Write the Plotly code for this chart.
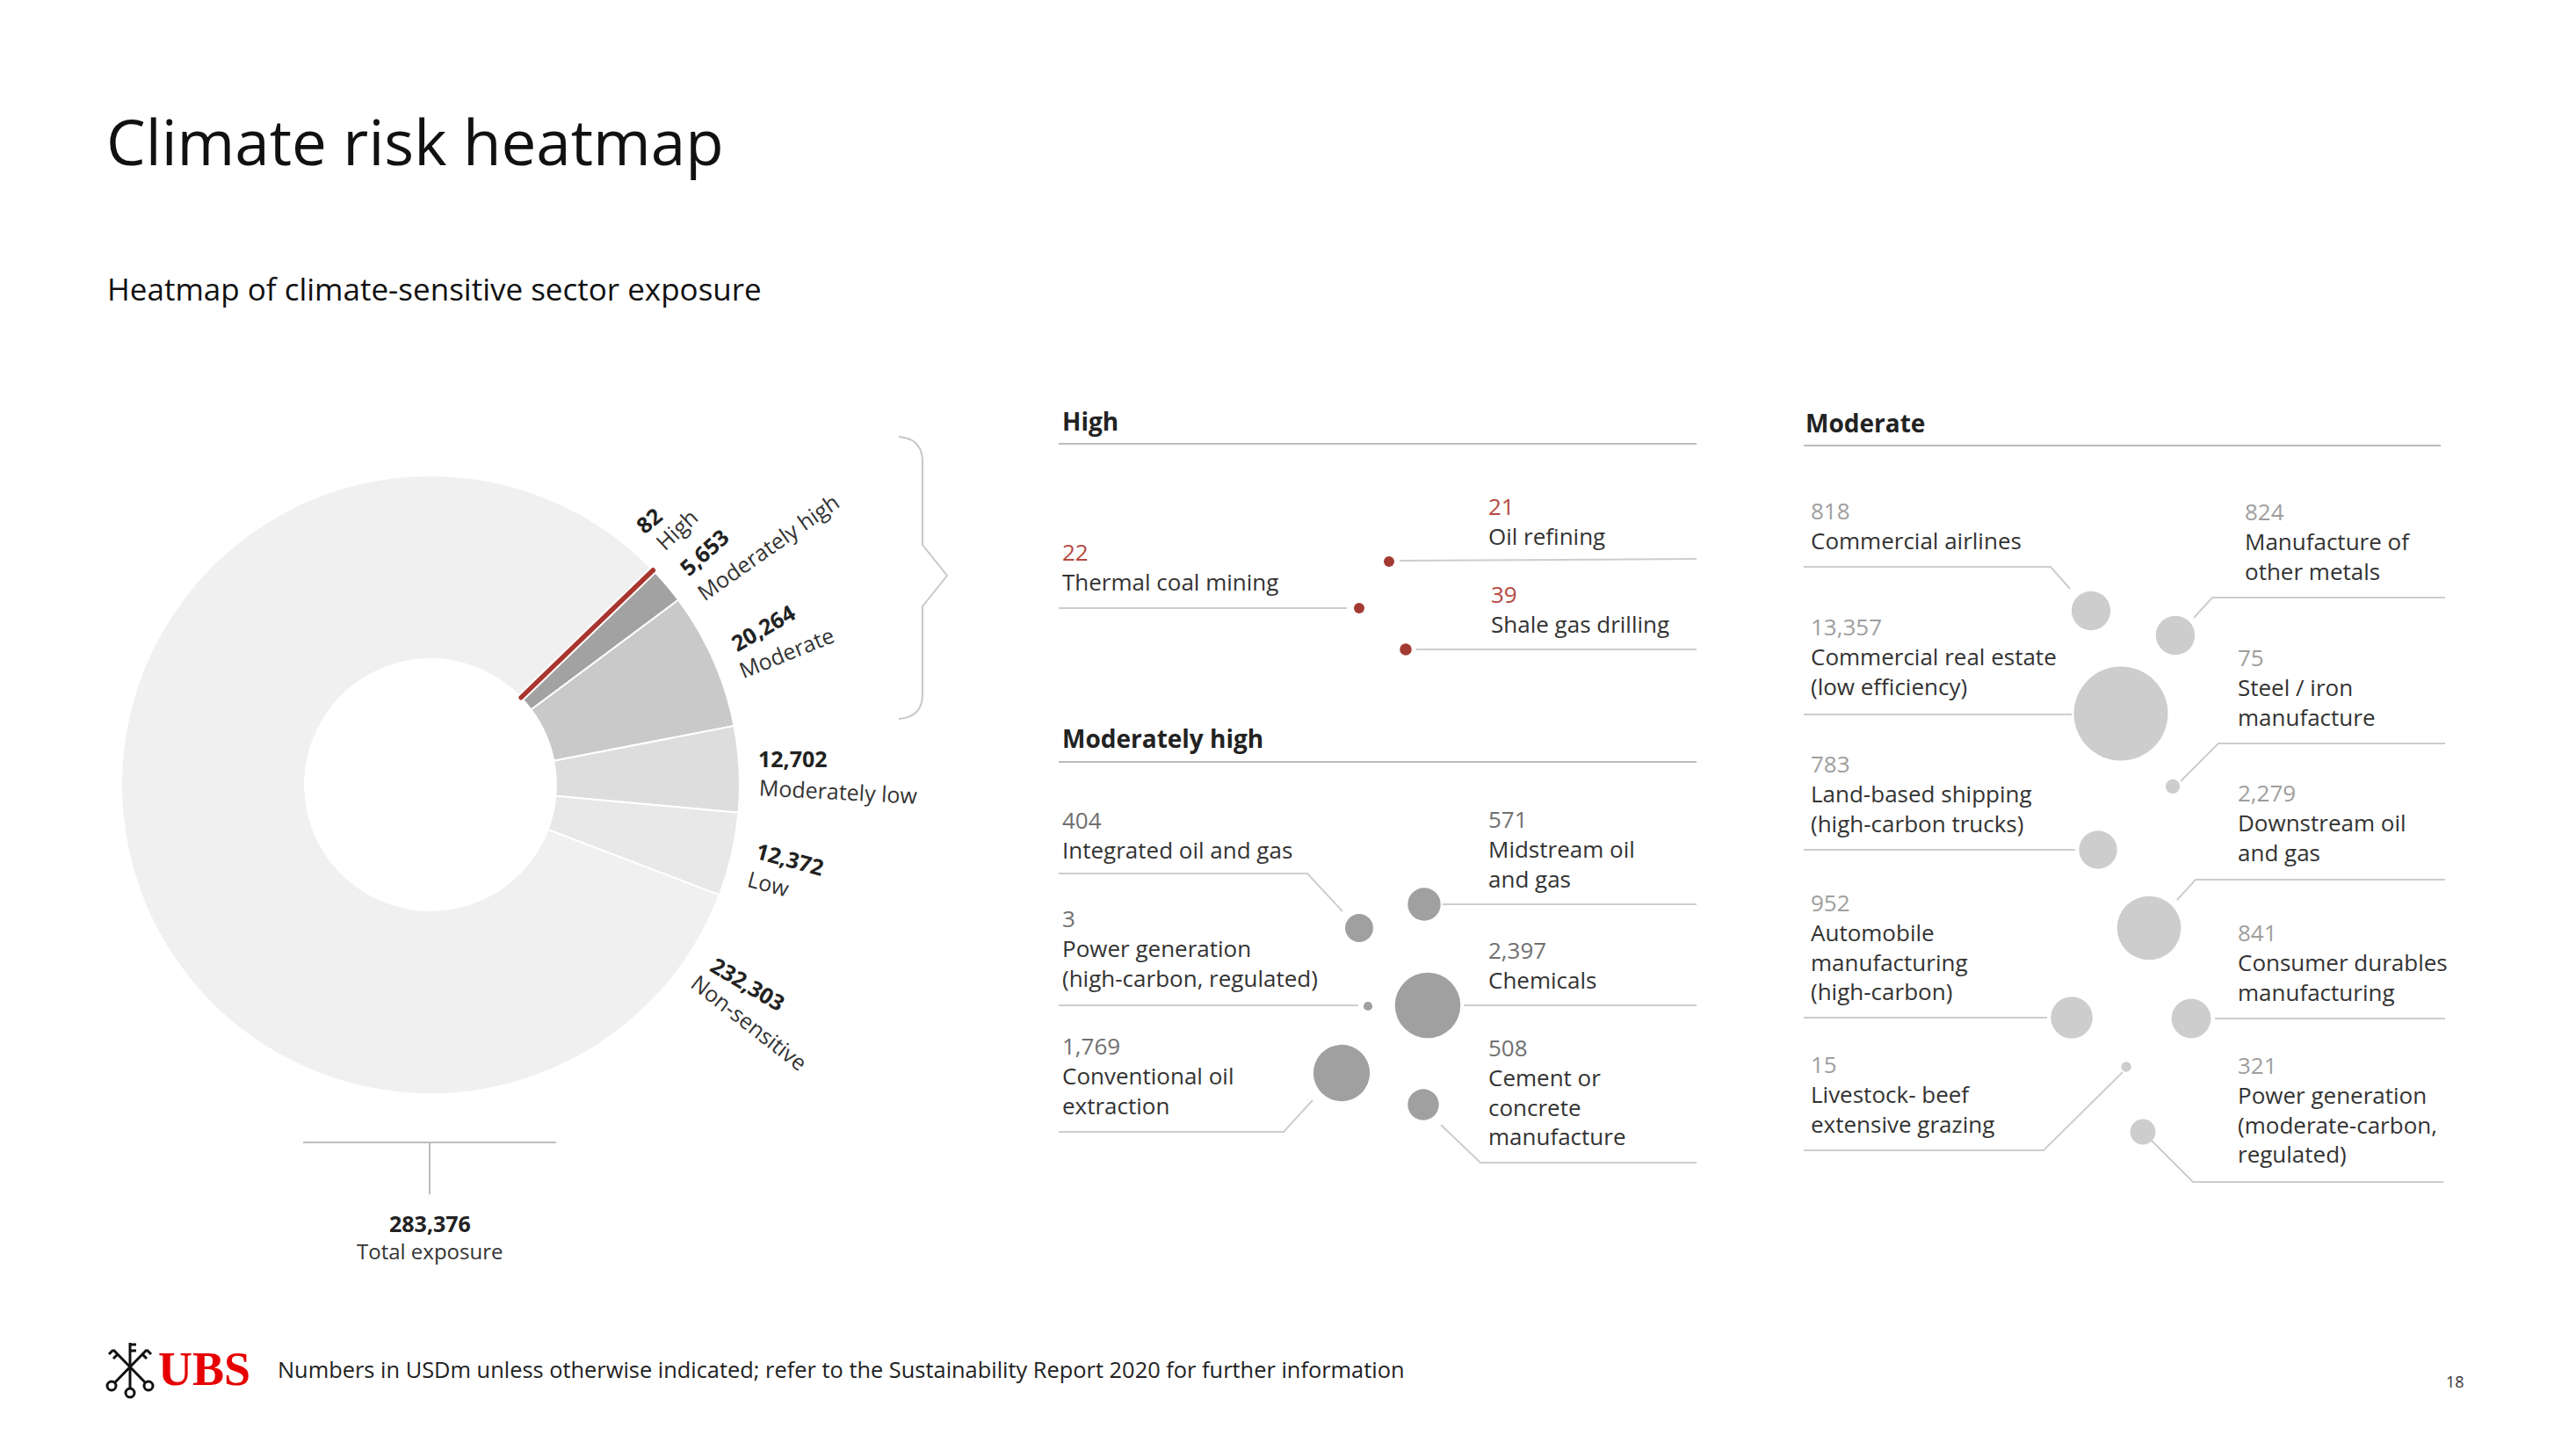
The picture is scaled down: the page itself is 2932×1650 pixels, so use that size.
import math
import plotly.graph_objects as go

W, H = 2932, 1650
OFF = 8  # page body margin compensation
FONT = "Open Sans"

# ---------------- data ----------------
risk_levels = ["High", "Moderately high", "Moderate", "Moderately low", "Low", "Non-sensitive"]
risk_values = [82, 5653, 20264, 12702, 12372, 232303]
total_exposure = 283376

high_sectors = ["Thermal coal mining", "Oil refining", "Shale gas drilling"]
high_values = [22, 21, 39]

modhigh_sectors = ["Integrated oil and gas", "Power generation<br>(high-carbon, regulated)",
                   "Conventional oil<br>extraction", "Midstream oil<br>and gas", "Chemicals",
                   "Cement or<br>concrete<br>manufacture"]
modhigh_values = [404, 3, 1769, 571, 2397, 508]

moderate_sectors = ["Commercial airlines", "Commercial real estate<br>(low efficiency)",
                    "Land-based shipping<br>(high-carbon trucks)",
                    "Automobile<br>manufacturing<br>(high-carbon)",
                    "Livestock- beef<br>extensive grazing",
                    "Manufacture of<br>other metals", "Steel / iron<br>manufacture",
                    "Downstream oil<br>and gas", "Consumer durables<br>manufacturing",
                    "Power generation<br>(moderate-carbon,<br>regulated)"]
moderate_values = [818, 13357, 783, 952, 15, 824, 75, 2279, 841, 321]

# ---------------- styles / layout positions ----------------
risk_colors = ["#A8352E", "#A2A2A2", "#C9C9C9", "#DDDDDD", "#E8E8E8", "#F1F0F0"]
LINE = "#CDCDCD"
TXT = "#333333"

# bubble diameter: area proportional to value, with a minimum area and a cap
def diam(v):
    return min(math.sqrt(2.28 * v + 95), 107)

# pixel positions (layout only)
high_bubble_xy = [(1547, 692), (1581, 639), (1600, 739)]
high_text_xy = [(1207, 645), (1692, 593), (1695, 693)]

modhigh_bubble_xy = [(1547, 1056), (1557, 1145), (1527, 1221), (1621, 1029), (1625, 1144), (1620, 1257)]
modhigh_text_xy = [(1207, 950), (1207, 1079), (1207, 1224), (1692, 966), (1692, 1098), (1692, 1242)]

moderate_bubble_xy = [(2380, 695), (2414, 812), (2388, 967), (2358, 1158), (2420, 1214),
                      (2476, 723), (2473, 895), (2446, 1056), (2494, 1159), (2439, 1288)]
moderate_text_xy = [(2059, 598), (2059, 747), (2059, 903), (2059, 1077), (2059, 1245),
                    (2553, 616), (2545, 782), (2545, 936), (2545, 1095), (2545, 1262)]

donut_num_pos = [(738, 592, -40), (801, 628, -42), (868, 714, -30), (902, 863, 0), (899, 977, 15), (851, 1119, 31)]
donut_lab_pos = [(770, 602, -43), (874, 622, -35), (895, 742, -22), (954, 900, 3), (875, 1005, 15), (853, 1163, 38)]

connectors = [
    # High
    "M 1205,692 L 1533,692", "M 1593,638 L 1931,636", "M 1612,739 L 1931,739",
    # Moderately high
    "M 1205,994 L 1488,994 L 1528,1037", "M 1205,1144 L 1546,1144",
    "M 1205,1288 L 1461,1288 L 1494,1252", "M 1642,1029 L 1931,1029",
    "M 1666,1144 L 1931,1144", "M 1640,1280 L 1685,1323 L 1931,1323",
    # Moderate left
    "M 2053,645 L 2334,645 L 2356,670", "M 2053,813 L 2358,813",
    "M 2053,967 L 2362,967", "M 2053,1158 L 2330,1158", "M 2053,1309 L 2326,1309 L 2416,1220",
    # Moderate right
    "M 2783,680 L 2518,680 L 2497,703", "M 2783,846 L 2525,846 L 2482,889",
    "M 2783,1001 L 2499,1001 L 2478,1024", "M 2783,1159 L 2521,1159",
    "M 2449,1298 L 2496,1345 L 2781,1345",
]
header_rules = ["M 1205,505 L 1931,505", "M 1205,867 L 1931,867", "M 2053,507 L 2778,507"]

fig = go.Figure()

# ---------------- donut ----------------
dom_x = [(138 - OFF) / W, (842 - OFF) / W]
dom_y = [1 - (1245 - OFF) / H, 1 - (541 - OFF) / H]
fig.add_trace(go.Pie(
    labels=risk_levels, values=risk_values, sort=False, direction="clockwise", rotation=46,
    hole=0.406, domain=dict(x=dom_x, y=dom_y), textinfo="none", showlegend=False,
    marker=dict(colors=risk_colors, line=dict(color="white", width=2)), hoverinfo="label+value",
))
# emphasise the thin "High" sliver on top
for col, wdt in [("white", 9), (risk_colors[0], 5)]:
    fig.add_trace(go.Pie(
        labels=risk_levels, values=risk_values, sort=False, direction="clockwise", rotation=46,
        hole=0.406, domain=dict(x=dom_x, y=dom_y), textinfo="none", showlegend=False,
        marker=dict(colors=[risk_colors[0]] + ["rgba(0,0,0,0)"] * 5,
                    line=dict(color=[col] + ["rgba(0,0,0,0)"] * 5, width=[wdt] + [0] * 5)),
        hoverinfo="skip",
    ))

# ---------------- bubbles ----------------
def add_bubbles(xy, values, names, color):
    fig.add_trace(go.Scatter(
        x=[p[0] for p in xy], y=[p[1] for p in xy], mode="markers",
        marker=dict(size=[diam(v) for v in values], color=color, line=dict(width=0), opacity=1),
        text=[f"{n.replace('<br>', ' ')}: {v:,}" for n, v in zip(names, values)],
        hoverinfo="text", showlegend=False, xaxis="x", yaxis="y",
    ))

add_bubbles(high_bubble_xy, high_values, high_sectors, "#A33A32")
add_bubbles(modhigh_bubble_xy, modhigh_values, modhigh_sectors, "#A0A0A0")
add_bubbles(moderate_bubble_xy, moderate_values, moderate_sectors, "#CDCDCD")

ann = []
def text(x, y, t, size=26, color=TXT, xanchor="left", angle=0, bold=False, family=FONT):
    if bold:
        t = f"<b>{t}</b>"
    ann.append(dict(x=x, y=y, xref="x", yref="y", text=t, showarrow=False, xanchor=xanchor,
                    yanchor="middle", align="left" if xanchor == "left" else "center",
                    textangle=angle, font=dict(family=family, size=size, color=color)))

def sector_blocks(xy, values, names, numcolor):
    for (x, y), v, n in zip(xy, values, names):
        text(x, y, f"<span style='color:{numcolor}'>{v:,}</span><br>{n}")

sector_blocks(high_text_xy, high_values, high_sectors, "#B5493F")
sector_blocks(modhigh_text_xy, modhigh_values, modhigh_sectors, "#707070")
sector_blocks(moderate_text_xy, moderate_values, moderate_sectors, "#9E9E9E")

# headers
text(1207, 479, "High", size=28, color="#222222", bold=True)
text(1207, 840, "Moderately high", size=28, color="#222222", bold=True)
text(2053, 481, "Moderate", size=28, color="#222222", bold=True)

# donut labels
for (x, y, a), v in zip(donut_num_pos, risk_values):
    text(x, y, f"{v:,}", size=25, color="#222222", xanchor="center", angle=a, bold=True)
for (x, y, a), n in zip(donut_lab_pos, risk_levels):
    text(x, y, n, size=25, color="#333333", xanchor="center", angle=a)

text(489, 1392, f"{total_exposure:,}", size=25, color="#222222", xanchor="center", bold=True)
text(489, 1423, "Total exposure", size=24, color="#333333", xanchor="center")

# titles & footer
text(119, 160, "Climate risk heatmap", size=71, color="#111111")
text(120, 328, "Heatmap of climate-sensitive sector exposure", size=35, color="#111111")
text(178, 1558, "<b>UBS</b>", size=54, color="#E60000", family="Liberation Serif")
text(314, 1558, "Numbers in USDm unless otherwise indicated; refer to the Sustainability Report 2020 for further information",
     size=25.4, color="#222222")
text(2794, 1572, "18", size=18, color="#333333", xanchor="center")

# ---------------- shapes ----------------
shapes = []
for p in connectors:
    shapes.append(dict(type="path", path=p, xref="x", yref="y", line=dict(color=LINE, width=2), layer="below"))
for p in header_rules:
    shapes.append(dict(type="path", path=p, xref="x", yref="y", line=dict(color="#BBBBBB", width=2), layer="below"))
# brace
shapes.append(dict(type="path", xref="x", yref="y", layer="below", line=dict(color="#C8C8C8", width=2),
                   path="M 1023,497 Q 1050,499 1050,526 L 1050,620 L 1078,655 L 1050,690 L 1050,790 Q 1050,816 1023,818"))
# total exposure bracket
shapes.append(dict(type="path", xref="x", yref="y", layer="below", line=dict(color="#BDBDBD", width=2),
                   path="M 345,1300 L 633,1300 M 489,1300 L 489,1359"))
# UBS keys emblem (simplified)
kc = "#111111"
for p in ["M 148,1528 L 148,1580", "M 129,1536 L 166,1574", "M 167,1536 L 130,1574",
          "M 148,1530 L 155,1530 M 148,1537 L 155,1537",
          "M 129,1536 L 124,1541 M 134,1541 L 129,1546",
          "M 167,1536 L 172,1541 M 162,1541 L 167,1546"]:
    shapes.append(dict(type="path", path=p, xref="x", yref="y", line=dict(color=kc, width=3)))
for cx, cy in [(148, 1585), (127, 1577), (169, 1577)]:
    shapes.append(dict(type="circle", xref="x", yref="y", x0=cx - 5, x1=cx + 5, y0=cy - 5, y1=cy + 5,
                       line=dict(color=kc, width=3)))

fig.update_layout(
    width=W, height=H, margin=dict(l=0, r=0, t=0, b=0),
    paper_bgcolor="white", plot_bgcolor="rgba(0,0,0,0)",
    xaxis=dict(range=[OFF, W + OFF], visible=False, fixedrange=True, domain=[0, 1]),
    yaxis=dict(range=[H + OFF, OFF], visible=False, fixedrange=True, domain=[0, 1]),
    annotations=ann, shapes=shapes, showlegend=False,
)

fig.write_html("out.html")
